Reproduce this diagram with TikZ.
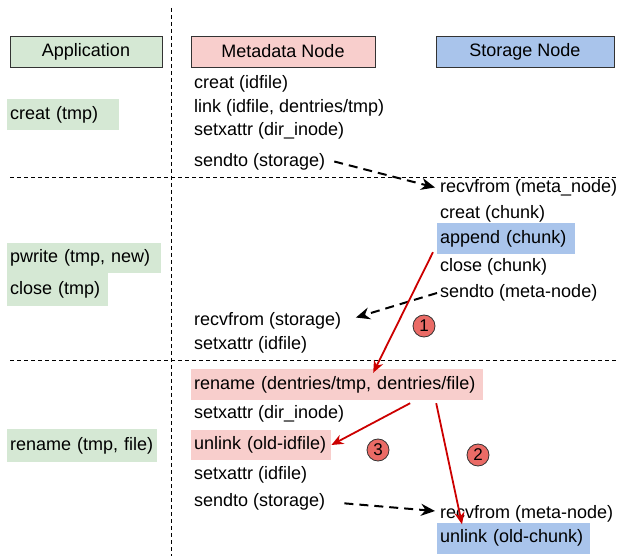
\documentclass[tikz,border=0pt]{standalone}
\usepackage{fontspec}
\setmainfont{Liberation Sans}
\usetikzlibrary{arrows.meta,calc}
\definecolor{appfill}{HTML}{D5E8D4}
\definecolor{metafill}{HTML}{F8CECC}
\definecolor{storfill}{HTML}{A9C4EB}
\definecolor{redl}{HTML}{CC0000}
\definecolor{circfill}{HTML}{EA6B66}
\begin{document}
\begin{tikzpicture}[x=1pt,y=-1pt,font=\fontsize{18}{21}\selectfont,
  txt/.style={anchor=west,inner xsep=3pt,inner ysep=0pt,minimum height=28pt},
  hl/.style={txt,fill=#1,align=left},
  hdr/.style={draw=black!80,line width=0.8pt,minimum height=31pt,inner sep=0pt},
  sepline/.style={line width=0.8pt,dash pattern=on 4pt off 3pt},
  dasharrow/.style={line width=2pt,dash pattern=on 9pt off 6pt,-{Stealth[length=14pt,width=12pt]}},
  redarrow/.style={redl,line width=1.8pt,-{Stealth[length=12pt,width=10pt]}},
  num/.style={circle,draw=black!80,line width=0.8pt,fill=circfill,minimum size=22pt,inner sep=0pt,font=\fontsize{17}{19}\selectfont}]
\useasboundingbox (0,0) rectangle (619,556);
% separators
\draw[sepline] (171,8) -- (171,556);
\draw[sepline] (10,177) -- (619,177);
\draw[sepline] (10,360) -- (619,360);
% headers
\node[hdr,fill=appfill,minimum width=152pt] (happ) at (86,51.5) {Application};
\node[hdr,fill=metafill,minimum width=184pt] (hmeta) at (283,51.5) {Metadata Node};
\node[hdr,fill=storfill,minimum width=178pt] (hstor) at (525,51.5) {Storage Node};
% application column
\node[hl=appfill,text width=106pt,minimum height=31pt] (a1) at (7,114.5) {creat (tmp)};
\node[hl=appfill,text width=148pt,minimum height=30pt] (a2) at (7,258) {pwrite (tmp, new)};
\node[hl=appfill,text width=95pt,minimum height=33pt] (a3) at (7,289.5) {close (tmp)};
\node[hl=appfill,text width=144pt,minimum height=33pt] (a4) at (7,445.5) {rename (tmp, file)};
% metadata column
\node[txt] (m1) at (191,84) {creat (idfile)};
\node[txt] (m2) at (191,108) {link (idfile, dentries/tmp)};
\node[txt] (m3) at (191,131) {setxattr (dir\_inode)};
\node[txt] (m4) at (191,162) {sendto (storage)};
\node[txt] (m5) at (191,321) {recvfrom (storage)};
\node[txt] (m6) at (191,345) {setxattr (idfile)};
\node[hl=metafill,text width=286pt,minimum height=31pt] (m7) at (191,384.5) {rename (dentries/tmp, dentries/file)};
\node[txt] (m8) at (191,414) {setxattr (dir\_inode)};
\node[hl=metafill,text width=134pt,minimum height=30pt] (m9) at (191,445) {unlink (old-idfile)};
\node[txt] (m10) at (191,475) {setxattr (idfile)};
\node[txt] (m11) at (191,502) {sendto (storage)};
% storage column
\node[txt] (s1) at (437,188) {recvfrom (meta\_node)};
\node[txt] (s2) at (437,214) {creat (chunk)};
\node[hl=storfill,text width=132pt,minimum height=31pt] (s3) at (437,238.5) {append (chunk)};
\node[txt] (s4) at (437,267) {close (chunk)};
\node[txt] (s5) at (437,293) {sendto (meta-node)};
\node[txt] (s6) at (437,514) {recvfrom (meta-node)};
\node[hl=storfill,text width=147pt,minimum height=31pt] (s7) at (437,538) {unlink (old-chunk)};
% dashed messages
\draw[dasharrow,shorten <=6pt,shorten >=2pt] ($(m4.east)+(0,-2)$) -- (s1.west);
\draw[dasharrow,shorten >=12pt] (s5.west) -- (m5.east);
\draw[dasharrow,shorten <=16pt] (m11.east) -- ($(s6.west)+(-2,-3)$);
% red dependencies
\draw[redarrow] ($(s3.south west)+(-4,-2)$) -- ($(m7.north)+(36,4)$);
\draw[redarrow] ($(m7.south)+(73,3)$) -- (m9.east);
\draw[redarrow] ($(m7.south)+(99,3)$) -- ($(s7.north west)+(25,2)$);
% step numbers
\node[num] (n1) at (424,326) {1};
\node[num] (n3) at (378,450) {3};
\node[num] (n2) at (478,455) {2};
\end{tikzpicture}
\end{document}
